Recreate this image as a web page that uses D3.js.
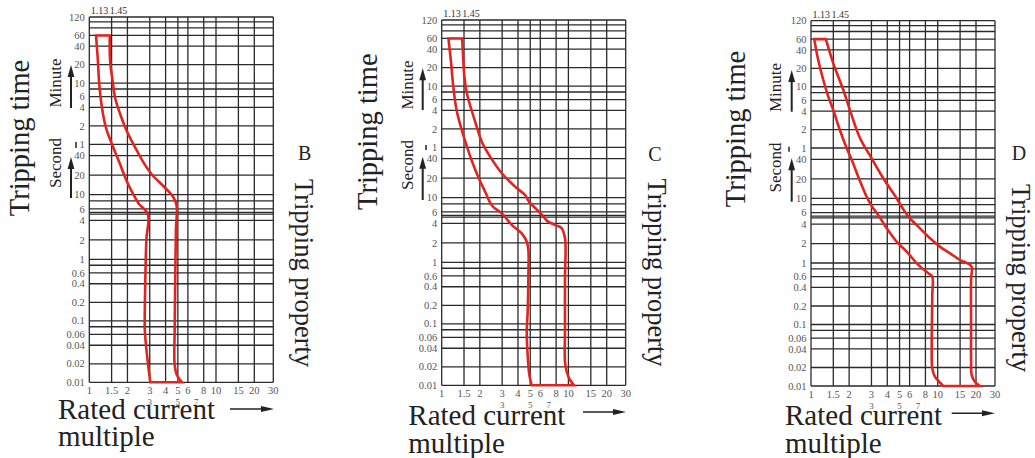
<!DOCTYPE html>
<html>
<head>
<meta charset="utf-8">
<script src="https://cdn.jsdelivr.net/npm/d3@7"></script>
<style>
  html, body { margin: 0; padding: 0; background: #fff; }
  svg { display: block; }
</style>
</head>
<body>
<svg id="chart" width="1035" height="458" font-family="'Liberation Serif', Tinos, 'Times New Roman', 'DejaVu Serif', serif"></svg>
<script>
// ---------- data ----------
const xGridValues = [1, 1.5, 2, 3, 4, 5, 6, 8, 10, 15, 20, 30];
const xTickLabels = ["1", "1.5", "2", "3", "4", "5", "6", "8", "10", "15", "20", "30"];
const xSubValues = [3, 5, 7];
const xSubLabels = ["3", "5", "7"];

// tripping time in seconds (top part is minutes)
const yGridValues = [7200, 6000, 4800, 3600, 2400, 1200, 600, 480, 360, 240, 120, 60, 40, 20, 10, 8, 6, 5.3, 5, 4, 2, 1, 0.8, 0.6, 0.4, 0.2, 0.1, 0.08, 0.06, 0.04, 0.02, 0.01];
const yTickValues = [7200, 3600, 2400, 1200, 600, 360, 240, 120, 60, 40, 20, 10, 6, 4, 2, 1, 0.6, 0.4, 0.2, 0.1, 0.06, 0.04, 0.02, 0.01];
const yTickLabels = ["120", "60", "40", "20", "10", "6", "4", "2", "1", "40", "20", "10", "6", "4", "2", "1", "0.6", "0.4", "0.2", "0.1", "0.06", "0.04", "0.02", "0.01"];
const topLabels = ["1.13", "1.45"];

// curve B: [current multiple, seconds]
const bLower = [[1.13,3600],[1.165,1540],[1.2,560],[1.26,235],[1.355,111],[1.51,60],[1.71,33],[1.98,16],[2.24,9.9],[2.45,7.3],[2.9,5],[2.82,2],[2.77,0.5],[2.74,0.075],[2.77,0.052],[2.89,0.022],[3.03,0.01]];
const bUpper = [[5.4,0.01],[4.92,0.013],[4.72,0.019],[4.72,0.075],[4.77,0.5],[4.83,3],[4.9,6.5],[4.64,8.9],[4.23,11.2],[3.75,14.2],[3.13,20.3],[2.69,31],[2.31,53],[1.98,98],[1.76,182],[1.6,342],[1.53,640],[1.46,1360],[1.45,3600]];

// curve C
const cLower = [[1.13,3600],[1.18,1600],[1.235,586],[1.31,244],[1.44,115],[1.58,62],[1.72,38],[1.94,21],[2.2,12.4],[2.5,7.5],[2.98,5.7],[3.57,3.8],[4.28,2.8],[4.69,2.08],[4.83,1.55],[4.83,0.55],[4.77,0.157],[4.69,0.074],[4.77,0.031],[4.92,0.0147],[5.13,0.01]];
const cUpper = [[11.1,0.01],[10.3,0.0122],[9.7,0.0166],[9.4,0.024],[9.4,0.084],[9.4,0.55],[9.5,1.64],[9.4,2.35],[8.85,3.36],[8.1,3.7],[6.9,4.25],[6.2,5.4],[5.6,6.6],[4.9,8.6],[4.54,11],[3.79,14.8],[2.98,23.8],[2.41,43],[2.07,74],[1.89,130],[1.72,244],[1.58,457],[1.51,853],[1.48,1600],[1.45,3600]];

// curve D
const dLower = [[1.06,3600],[1.14,1640],[1.25,774],[1.37,413],[1.5,250],[1.69,118],[1.91,60],[2.1,39],[2.36,21.6],[2.75,10.6],[3.05,7.3],[3.4,5.5],[3.96,3.44],[4.75,2.13],[5.69,1.5],[7.03,0.93],[8.43,0.68],[9.06,0.6],[9.06,0.3],[8.97,0.046],[9.06,0.0194],[9.5,0.0142],[11.1,0.01]];
const dUpper = [[21.8,0.01],[19.6,0.0117],[18.5,0.015],[18.3,0.025],[18.3,0.087],[18.3,0.56],[18.5,0.87],[16.9,1.0],[15,1.11],[12.5,1.41],[10.4,1.79],[8.7,2.41],[7.25,3.44],[6.04,4.9],[5.45,6.4],[4.6,11],[3.72,20.4],[3.01,41.6],[2.44,86.5],[2.03,250],[1.8,531],[1.5,1450],[1.31,3600]];

const panelLetters = ["B", "C", "D"];
const panelCurves = [[bLower, bUpper], [cLower, cUpper], [dLower, dUpper]];

// ---------- layout ----------
const layout = [
  {left: 89.3, top: 17, tt: [28.5, 138], ms: [60.5, 83, 163], arrX: 71, a1: [108, 65], a2: [198, 157], dash: [76, 142, 148],
   letter: [298, 160], prop: [295, 273], rated: [58, 418.5, 446], hArrow: [230, 274, 409]},
  {left: 441.7, top: 20, tt: [376.8, 131.7], ms: [412.5, 85, 165], arrX: 422.7, a1: [110, 68.3], a2: [200, 156.7], dash: [426, 145, 150],
   letter: [648.3, 161], prop: [648, 272.5], rated: [408.3, 424.5, 452.5], hArrow: [583, 626, 412]},
  {left: 811, top: 20.7, tt: [745, 129], ms: [781, 87.5, 167.5], arrX: 791.7, a1: [111.7, 70], a2: [201.7, 158.3], dash: [789, 146.7, 151.7],
   letter: [1011.7, 160], prop: [1012, 278], rated: [785, 425, 452.5], hArrow: [951.7, 995, 413.3]}
];

const svg = d3.select("#chart");
const gridColor = "#2a2a2a";
const tickColor = "#555";
const textColor = "#222";
const red = "#e0241f";

function vArrow(g, x, y0, y1) {
  g.append("line").attr("x1", x).attr("x2", x).attr("y1", y0).attr("y2", y1 + 8)
    .attr("stroke", textColor).attr("stroke-width", 2);
  g.append("path").attr("d", `M${x},${y1} L${x - 3.4},${y1 + 12} L${x + 3.4},${y1 + 12} Z`).attr("fill", textColor);
}
function hArrow(g, x0, x1, y) {
  g.append("line").attr("x1", x0).attr("x2", x1 - 8).attr("y1", y).attr("y2", y)
    .attr("stroke", textColor).attr("stroke-width", 1.6);
  g.append("path").attr("d", `M${x1},${y} L${x1 - 13},${y - 3} L${x1 - 13},${y + 3} Z`).attr("fill", textColor);
}

panelLetters.forEach((letter, i) => {
  const L = layout[i];
  const g = svg.append("g");
  const x = d3.scaleLog().domain([1, 10, 20, 30]).range([L.left, L.left + 126.7, L.left + 165, L.left + 184]);
  const y = d3.scaleLog().domain([7200, 60, 1, 0.01]).range([L.top, L.top + 127.3, L.top + 242.3, L.top + 365.3]);
  const x0 = x(1), x1 = x(30), y0 = y(7200), y1 = y(0.01);

  // grid
  g.selectAll(".hg").data(yGridValues).join("line")
    .attr("x1", x0).attr("x2", x1).attr("y1", d => y(d)).attr("y2", d => y(d))
    .attr("stroke", gridColor).attr("stroke-width", 1.3);
  g.selectAll(".vg").data(xGridValues).join("line")
    .attr("x1", d => x(d)).attr("x2", d => x(d)).attr("y1", y0).attr("y2", y1)
    .attr("stroke", gridColor).attr("stroke-width", 1.3);

  // y tick labels
  g.selectAll(".yl").data(yTickValues).join("text")
    .attr("x", x0 - 4.5).attr("y", d => y(d)).attr("dy", "0.35em")
    .attr("text-anchor", "end").attr("font-size", 10.5).attr("fill", tickColor)
    .text((d, k) => yTickLabels[k]);

  // x tick labels
  g.selectAll(".xl").data(xGridValues).join("text")
    .attr("x", d => x(d)).attr("y", y1 + 11.5)
    .attr("text-anchor", "middle").attr("font-size", 10.5).attr("fill", tickColor)
    .text((d, k) => xTickLabels[k]);
  g.selectAll(".xs").data(xSubValues).join("text")
    .attr("x", d => x(d)).attr("y", y1 + 22.5)
    .attr("text-anchor", "middle").attr("font-size", 9).attr("fill", tickColor)
    .text((d, k) => xSubLabels[k]);

  // top labels
  g.append("text").attr("x", x0 + 1.5).attr("y", y0 - 3).attr("font-size", 10).attr("fill", "#333").text(topLabels[0]);
  g.append("text").attr("x", x(1.45)).attr("y", y0 - 3).attr("font-size", 10).attr("fill", "#333").text(topLabels[1]);

  // red envelope
  const [lower, upper] = panelCurves[i];
  const lc = d3.line().x(d => x(d[0])).y(d => y(d[1])).curve(d3.curveCatmullRom.alpha(0.5));
  const pathD = lc(lower) + lc(upper).replace(/^M/, "L") + "Z";
  g.append("path").attr("d", pathD).attr("fill", "none").attr("stroke", red)
    .attr("stroke-width", 2.6).attr("stroke-linejoin", "miter");

  // titles
  g.append("text").attr("transform", `translate(${L.tt[0]},${L.tt[1]}) rotate(-90)`)
    .attr("text-anchor", "middle").attr("font-size", 28.5).attr("fill", textColor).text("Tripping time");
  g.append("text").attr("transform", `translate(${L.ms[0]},${L.ms[1]}) rotate(-90)`)
    .attr("text-anchor", "middle").attr("font-size", 17).attr("fill", textColor).text("Minute");
  g.append("text").attr("transform", `translate(${L.ms[0]},${L.ms[2]}) rotate(-90)`)
    .attr("text-anchor", "middle").attr("font-size", 17).attr("fill", textColor).text("Second");
  vArrow(g, L.arrX, L.a1[0], L.a1[1]);
  vArrow(g, L.arrX, L.a2[0], L.a2[1]);
  g.append("line").attr("x1", L.dash[0]).attr("x2", L.dash[0]).attr("y1", L.dash[1]).attr("y2", L.dash[2])
    .attr("stroke", textColor).attr("stroke-width", 1.5);

  g.append("text").attr("x", L.letter[0]).attr("y", L.letter[1])
    .attr("font-size", 20).attr("fill", textColor).text(letter);
  g.append("text").attr("transform", `translate(${L.prop[0]},${L.prop[1]}) rotate(90)`)
    .attr("text-anchor", "middle").attr("font-size", 26.5).attr("fill", textColor).text("Tripping property");

  g.append("text").attr("x", L.rated[0]).attr("y", L.rated[1])
    .attr("font-size", 29).attr("fill", textColor).text("Rated current");
  g.append("text").attr("x", L.rated[0]).attr("y", L.rated[2])
    .attr("font-size", 29).attr("fill", textColor).text("multiple");
  hArrow(g, L.hArrow[0], L.hArrow[1], L.hArrow[2]);
});
</script>
</body>
</html>
